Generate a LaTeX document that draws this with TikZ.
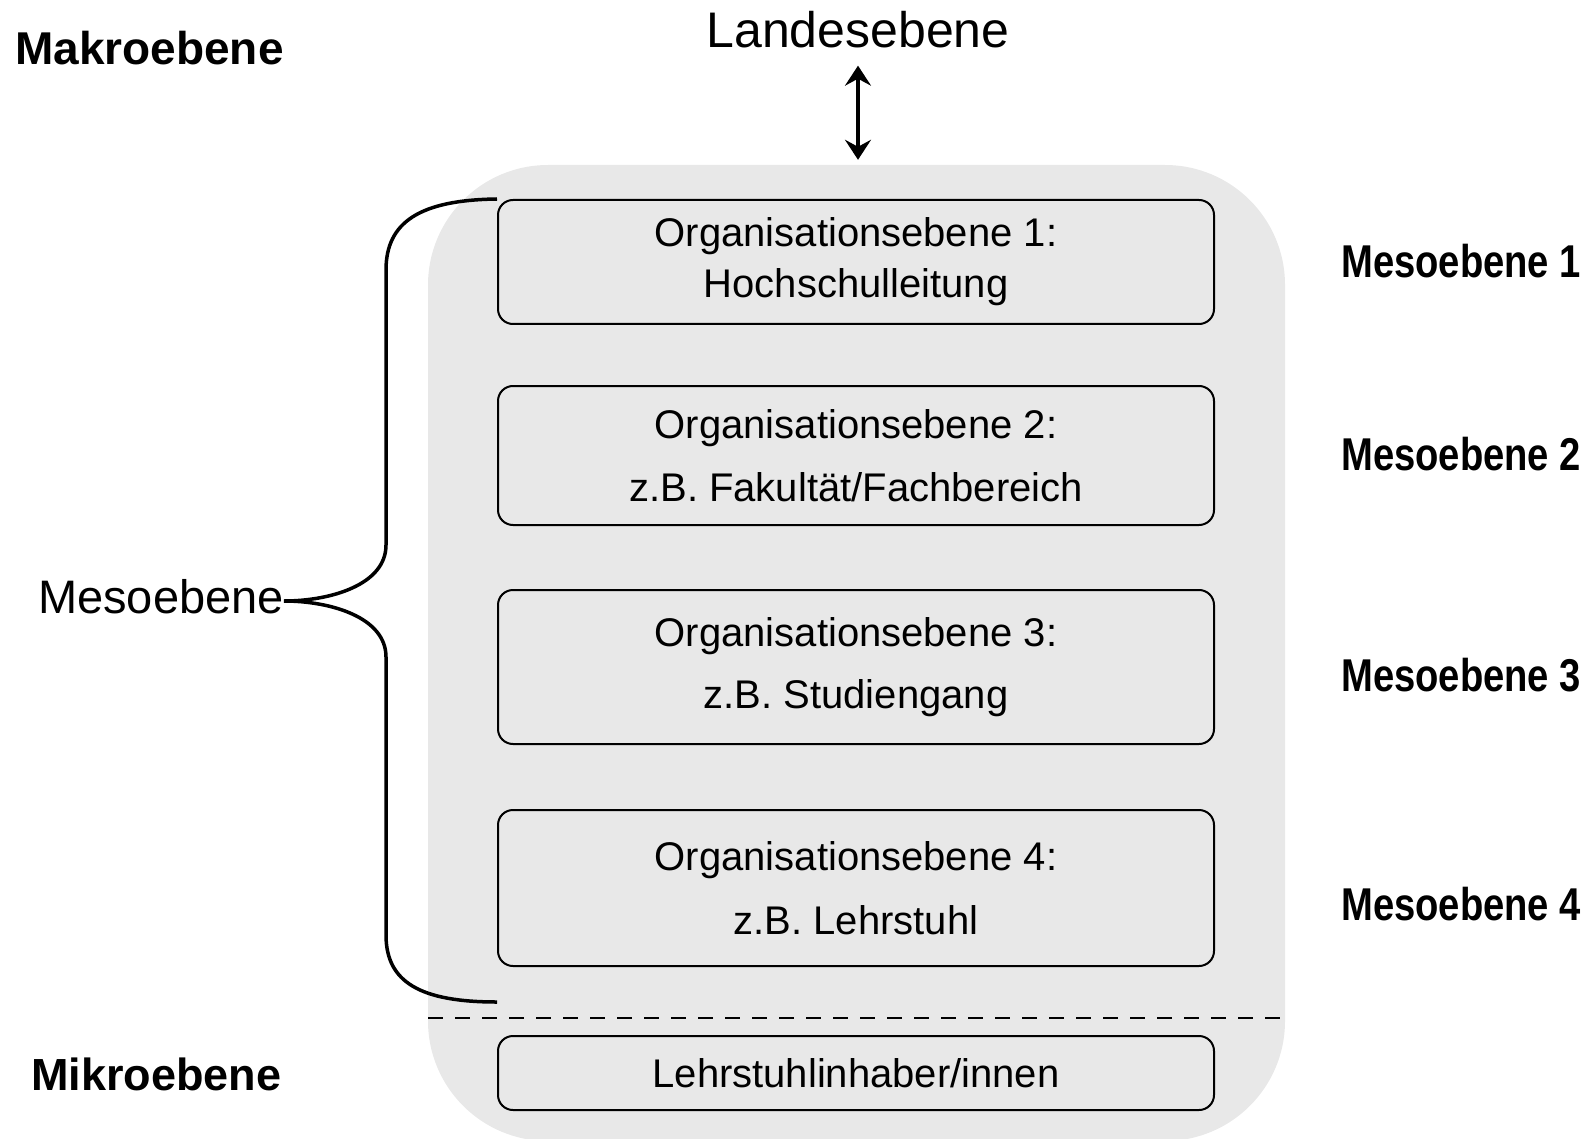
\documentclass[tikz,border=0pt]{standalone}
\usepackage{fontspec}
\setmainfont{Liberation Sans}
\newfontfamily\narrowfont{Liberation Sans}[FakeStretch=0.83]
\usetikzlibrary{arrows.meta}
\definecolor{panelgray}{RGB}{232,232,232}

\begin{document}
\begin{tikzpicture}[x=1pt,y=-1pt,
  orgbox/.style={draw,line width=2pt,rounded corners=15pt,fill=panelgray,
    minimum width=716pt,align=center,font=\fontsize{40}{51}\selectfont},
  levelname/.style={inner sep=0pt,anchor=base west,font=\fontsize{46}{50}\selectfont\bfseries},
  mesoname/.style={inner sep=0pt,anchor=base west,font=\fontsize{46}{50}\selectfont\narrowfont\bfseries}]
\useasboundingbox (0,0) rectangle (1592,1139);
% grey panel behind the organisation levels
\node [fill=panelgray,rounded corners=120pt,inner sep=0pt,
  minimum width=857pt,minimum height=976pt] (panel) at (856.5,653) {};
\node [orgbox,minimum height=124pt] (org1) at (856,262)
  {Organisationsebene 1:\\Hochschulleitung};
\node [orgbox,minimum height=139pt] (org2) at (856,455.5)
  {Organisationsebene 2:\\[12pt]z.B. Fakultät/Fachbereich};
\node [orgbox,minimum height=154pt] (org3) at (856,667)
  {Organisationsebene 3:\\[11pt]z.B. Studiengang};
\node [orgbox,minimum height=156pt] (org4) at (856,888)
  {Organisationsebene 4:\\[13pt]z.B. Lehrstuhl};
\node [orgbox,minimum height=74pt] (org5) at (856,1073) {Lehrstuhlinhaber/innen};
\coordinate (cutl) at (428,1018);
\coordinate (cutr) at (1285,1018);
\draw [line width=2pt,dash pattern=on 15pt off 12pt] (cutl) -- (cutr);
% levels on the left and on top
\node [levelname] (makro) at (15,65) {Makroebene};
\node [levelname,font=\fontsize{45}{50}\selectfont\bfseries] (mikro) at (31,1090) {Mikroebene};
\node [inner sep=0pt,anchor=base west,font=\fontsize{47}{50}\selectfont] (meso) at (38,613) {Mesoebene};
\node [inner sep=0pt,anchor=base,font=\fontsize{50}{54}\selectfont] (land) at (858,48) {Landesebene};
\draw [{Stealth[length=20pt,width=26pt,inset=7pt]}-{Stealth[length=20pt,width=26pt,inset=7pt]},
  line width=4.5pt,shorten <=17pt,shorten >=5pt] (land.south) -- (land.south |- panel.north);
% brace
\coordinate (tip) at (284,601);
\coordinate (braceend) at (497,1002);
\draw [line width=3.5pt] (org1.north west) .. controls (420,200) and (386,222) .. (386,270)
  -- (386,545) .. controls (386,585) and (330,601) .. (tip)
  .. controls (330,601) and (386,617) .. (386,657)
  -- (386,935) .. controls (386,982) and (420,1002) .. (braceend);
% levels on the right
\node [mesoname] (meso1) at (1341,278) {Mesoebene 1};
\node [mesoname] (meso2) at (1341,470) {Mesoebene 2};
\node [mesoname] (meso3) at (1341,691) {Mesoebene 3};
\node [mesoname] (meso4) at (1341,920) {Mesoebene 4};
\end{tikzpicture}
\end{document}
